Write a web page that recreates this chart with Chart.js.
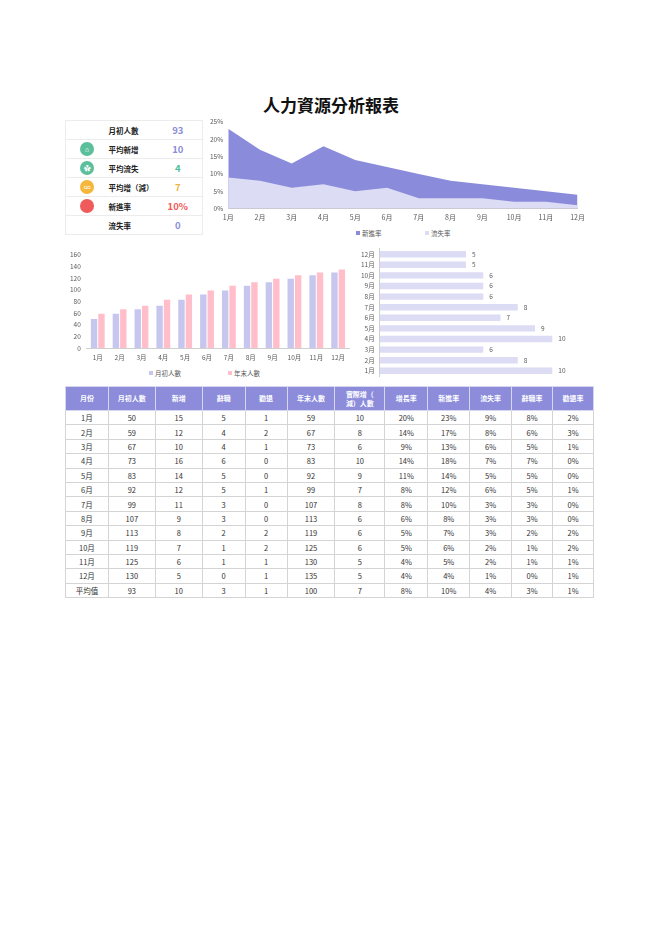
<!DOCTYPE html>
<html>
<head>
<meta charset="utf-8">
<script src="https://cdn.jsdelivr.net/npm/chart.js@4.4.0/dist/chart.umd.min.js"></script>
<style>
  body { margin: 0; background: #fff; font-family: "Noto Sans CJK TC", "Noto Sans", sans-serif; }
  #page { position: relative; width: 662px; height: 936px; }
  h1 { position: absolute; left: 0; width: 662px; top: 92px; margin: 0; text-align: center; font-size: 17px; font-weight: 700; color: #111; }
  .box { position: absolute; }
  .legend { position: absolute; font-size: 6.5px; color: #595959; white-space: nowrap; line-height: 8px; }
  .legend i { display: inline-block; width: 4px; height: 4px; margin-right: 2px; vertical-align: 1px; }
  #kpi { position: absolute; left: 65px; top: 120px; width: 138px; border-collapse: collapse; font-size: 7.5px; border-left: 1px solid #ececec; border-right: 1px solid #ececec; }
  #kpi td { height: 18px; border-top: 1px solid #ececec; border-bottom: 1px solid #ececec; padding: 0; white-space: nowrap; }
  #kpi .ic { width: 44px; text-align: center; }
  #kpi .lb { font-weight: 700; color: #222; }
  #kpi .vl { text-align: center; font-weight: 700; font-size: 9.5px; width: 50px; }
  .dot { display: inline-block; width: 14px; height: 14px; border-radius: 50%; vertical-align: middle; color: #fff; font-size: 7px; line-height: 14px; }
  #tbl { position: absolute; left: 65px; top: 386px; width: 529px; border-collapse: collapse; font-size: 7.5px; color: #333; }
  #tbl th { background: #8c8cdb; color: #fff; font-weight: 700; height: 23px; border: 1px solid #d6d6ef; padding: 0; font-size: 7px; line-height: 9px; }
  #tbl td { height: 13.4px; border: 1px solid #d4d4d4; text-align: center; padding: 0; }
</style>
</head>
<body>
<div id="page">
  <h1>人力資源分析報表</h1>
  <table id="kpi"></table>
  <div class="box" style="left:201px;top:113px;width:389px;height:114px"><canvas id="area"></canvas></div>
  <div class="legend" style="left:356px;top:229px"><i style="background:#8b8bdb"></i>新進率</div>
  <div class="legend" style="left:425px;top:229px"><i style="background:#dcdcf5"></i>流失率</div>
  <div class="box" style="left:60px;top:245px;width:290px;height:121px"><canvas id="bars"></canvas></div>
  <div class="legend" style="left:149px;top:369px"><i style="background:#c6c6ef"></i>月初人數</div>
  <div class="legend" style="left:228px;top:369px"><i style="background:#ffbec9"></i>年末人數</div>
  <div class="box" style="left:356px;top:240px;width:236px;height:145px"><canvas id="hbar"></canvas></div>
  <table id="tbl"></table>
</div>
<script>
// 月份與各欄資料
const months = ["1月","2月","3月","4月","5月","6月","7月","8月","9月","10月","11月","12月"];
const startCount = [50, 59, 67, 73, 83, 92, 99, 107, 113, 119, 125, 130];
const newHires = [15, 12, 10, 16, 14, 12, 11, 9, 8, 7, 6, 5];
const resigned = [5, 4, 4, 6, 5, 5, 3, 3, 2, 1, 1, 0];
const dismissed = [1, 2, 1, 0, 0, 1, 0, 0, 2, 2, 1, 1];
const endCount = [59, 67, 73, 83, 92, 99, 107, 113, 119, 125, 130, 135];
const netChange = [10, 8, 6, 10, 9, 7, 8, 6, 6, 6, 5, 5];
const growthRate = [20, 14, 9, 14, 11, 8, 8, 6, 5, 5, 4, 4];
const newRate = [23, 17, 13, 18, 14, 12, 10, 8, 7, 6, 5, 4];
const lossRate = [9, 8, 6, 7, 5, 6, 3, 3, 3, 2, 2, 1];
const resignRate = [8, 6, 5, 7, 5, 5, 3, 3, 2, 1, 1, 0];
const dismissRate = [2, 3, 1, 0, 0, 1, 0, 0, 2, 2, 1, 1];
const avgRow = ["平均值", 93, 10, 3, 1, 100, 7, "8%", "10%", "4%", "3%", "1%"];
const headers = ["月份","月初人數","新增","辭職","勸退","年末人數","實際增（<br>減）人數","增長率","新進率","流失率","辭職率","勸退率"];
const colWidths = [43, 47, 47, 43, 42, 48, 50, 43, 42, 42, 41, 41];

// 指標卡
const kpiLabels = ["月初人數","平均新增","平均流失","平均增（減）","新進率","流失率"];
const kpiValues = ["93","10","4","7","10%","0"];
const kpiColors = ["#8c8cd8","#8c8cd8","#4bbf99","#f0b43a","#ef5a5a","#8c8cd8"];
const kpiIcons = ["", "#5bbf9b", "#5bbf9b", "#f5b73b", "#ef5b5b", ""];
const kpiGlyphs = ["", "⌂", "✿", "∞", "", ""];

const fontFamily = '"Noto Sans CJK TC", "Noto Sans", sans-serif';
Chart.defaults.font.family = fontFamily;
Chart.defaults.color = "#595959";

// 指標卡表格
let kpiHtml = "";
kpiLabels.forEach(function(lb, i) {
    const icon = kpiIcons[i] ? `<span class="dot" style="background:${kpiIcons[i]}">${kpiGlyphs[i]}</span>` : "";
    kpiHtml += `<tr><td class="ic">${icon}</td><td class="lb">${lb}</td><td class="vl" style="color:${kpiColors[i]}">${kpiValues[i]}</td></tr>`;
});
document.getElementById("kpi").innerHTML = kpiHtml;

// 明細表
let tblHtml = "<colgroup>" + colWidths.map(w => `<col style="width:${w}px">`).join("") + "</colgroup><tr>";
headers.forEach(h => tblHtml += `<th>${h}</th>`);
tblHtml += "</tr>";
months.forEach(function(m, i) {
    const row = [m, startCount[i], newHires[i], resigned[i], dismissed[i], endCount[i], netChange[i],
        growthRate[i] + "%", newRate[i] + "%", lossRate[i] + "%", resignRate[i] + "%", dismissRate[i] + "%"];
    tblHtml += "<tr>" + row.map(v => `<td>${v}</td>`).join("") + "</tr>";
});
tblHtml += "<tr>" + avgRow.map(v => `<td>${v}</td>`).join("") + "</tr>";
document.getElementById("tbl").innerHTML = tblHtml;

// 新進率 / 流失率 面積圖
new Chart(document.getElementById("area"), {
    type: "line",
    data: {
        labels: months,
        datasets: [{
            label: "新進率",
            data: newRate,
            backgroundColor: "#8b8bdb",
            borderColor: "#8b8bdb",
            borderWidth: 0,
            pointRadius: 0,
            fill: "origin",
            order: 2
        }, {
            label: "流失率",
            data: lossRate,
            backgroundColor: "#dcdcf5",
            borderColor: "#dcdcf5",
            borderWidth: 0,
            pointRadius: 0,
            fill: "origin",
            order: 1
        }]
    },
    options: {
        responsive: true,
        maintainAspectRatio: false,
        animation: false,
        layout: { padding: { left: 4, right: 10, top: 2 } },
        plugins: { legend: { display: false }, tooltip: { enabled: false } },
        scales: {
            x: {
                offset: false,
                grid: { display: false, drawTicks: false },
                border: { color: "#d0d0d0" },
                ticks: { font: { size: 7 }, maxRotation: 0, autoSkip: false, padding: 5 }
            },
            y: {
                min: 0, max: 25,
                grid: { display: false, drawTicks: false },
                border: { display: false },
                ticks: { stepSize: 5, font: { size: 6.5 }, autoSkip: false, padding: 5, callback: v => v + "%" }
            }
        }
    }
});

// 月初人數 / 年末人數 柱狀圖
new Chart(document.getElementById("bars"), {
    type: "bar",
    data: {
        labels: months,
        datasets: [{
            label: "月初人數",
            data: startCount,
            backgroundColor: "#c6c6ef"
        }, {
            label: "年末人數",
            data: endCount,
            backgroundColor: "#ffbec9"
        }]
    },
    options: {
        responsive: true,
        maintainAspectRatio: false,
        animation: false,
        layout: { padding: { left: 4 } },
        datasets: { bar: { categoryPercentage: 0.68, barPercentage: 0.86 } },
        plugins: { legend: { display: false }, tooltip: { enabled: false } },
        scales: {
            x: {
                grid: { display: false, drawTicks: false },
                border: { color: "#d0d0d0" },
                ticks: { font: { size: 6.5 }, maxRotation: 0, autoSkip: false, padding: 5 }
            },
            y: {
                min: 0, max: 160,
                grid: { display: false, drawTicks: false },
                border: { display: false },
                ticks: { stepSize: 20, font: { size: 6.5 }, autoSkip: false, padding: 6 }
            }
        }
    }
});

// 實際增(減)人數 條形圖
const valueLabels = {
    id: "valueLabels",
    afterDatasetsDraw(chart) {
        const ctx = chart.ctx;
        const meta = chart.getDatasetMeta(0);
        ctx.save();
        ctx.fillStyle = "#595959";
        ctx.font = "6.5px " + fontFamily;
        ctx.textBaseline = "middle";
        meta.data.forEach(function(bar, i) {
            ctx.fillText(chart.data.datasets[0].data[i], bar.x + 6, bar.y);
        });
        ctx.restore();
    }
};

new Chart(document.getElementById("hbar"), {
    type: "bar",
    data: {
        labels: months,
        datasets: [{
            label: "實際增（減）人數",
            data: netChange,
            backgroundColor: "#dcdcf4",
            categoryPercentage: 0.6,
            barPercentage: 1
        }]
    },
    plugins: [valueLabels],
    options: {
        indexAxis: "y",
        responsive: true,
        maintainAspectRatio: false,
        animation: false,
        plugins: { legend: { display: false }, tooltip: { enabled: false } },
        scales: {
            x: { display: false, min: 0, max: 12.3 },
            y: {
                reverse: true,
                grid: { display: false, drawTicks: false },
                border: { color: "#d0d0d0" },
                ticks: { font: { size: 6.5 }, padding: 5, autoSkip: false }
            }
        }
    }
});
</script>
</body>
</html>
